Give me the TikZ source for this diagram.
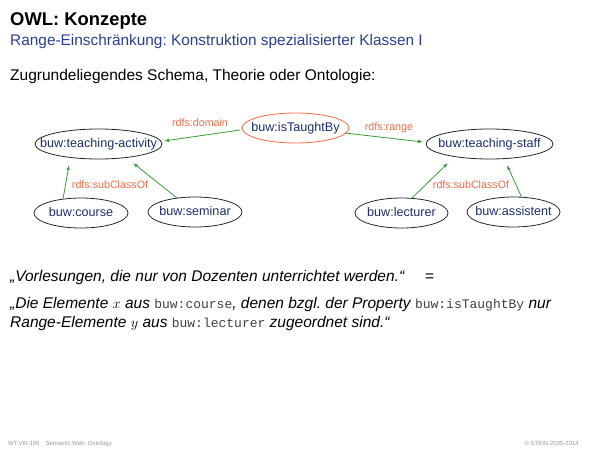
\documentclass[tikz,border=0pt]{standalone}
\usepackage{fontspec}
\setmainfont{Liberation Sans}
\setmonofont{Liberation Mono}
\usetikzlibrary{arrows.meta,shapes.geometric,calc}
\definecolor{navy}{HTML}{1E2C6E}
\definecolor{subblue}{HTML}{2B3F8F}
\definecolor{lblred}{HTML}{F26A46}
\definecolor{arrgreen}{HTML}{3A9A3A}
\definecolor{footgray}{HTML}{9A9A9A}
\newcommand{\mytt}[1]{{\fontsize{13}{15}\selectfont\upshape\ttfamily\color{black!75}#1}}
\begin{document}
\frenchspacing
\begin{tikzpicture}[x=1pt,y=-1pt,
  cls/.style={ellipse,draw=black!85,line width=0.8pt,inner xsep=-40pt,inner ysep=-8pt,
    minimum height=30pt,text height=9pt,text depth=2.6pt,text=navy,
    font=\fontsize{12.6}{14}\selectfont},
  prop/.style={cls,draw=lblred},
  lbl/.style={text=lblred,font=\fontsize{10.7}{12}\selectfont,inner sep=0pt},
  arr/.style={draw=arrgreen,line width=0.8pt,-{Latex[length=5pt,width=3.5pt]}},
  txt/.style={anchor=base west,inner sep=0pt,font=\fontsize{15.5}{18}\selectfont}]
\useasboundingbox (0,0) rectangle (600,450);

% header
\node[anchor=base west,inner sep=0pt,font=\bfseries\fontsize{18.4}{22}\selectfont] (title) at (10,25) {OWL: Konzepte};
\node[anchor=base west,inner sep=0pt,text=subblue,font=\fontsize{15.4}{18}\selectfont] (sub) at (10,45) {Range-Einschränkung: Konstruktion spezialisierter Klassen I};
\node[txt] (intro) at (10,80) {Zugrundeliegendes Schema, Theorie oder Ontologie:};

% graph nodes
\node[cls,minimum width=127pt] (ta) at (98.5,144) {buw:teaching-activity};
\node[prop,minimum width=107pt] (itb) at (295.5,128) {buw:isTaughtBy};
\node[cls,minimum width=127pt] (ts) at (489.5,144) {buw:teaching-staff};
\node[cls,minimum width=94pt] (course) at (81,213) {buw:course};
\node[cls,minimum width=94pt] (sem) at (195,212) {buw:seminar};
\node[cls,minimum width=93pt] (lec) at (401.5,213) {buw:lecturer};
\node[cls,minimum width=93pt] (ass) at (513.5,212) {buw:assistent};

% connectors
\draw[arr] ($(itb)+(-55.5,2)$) -- ($(ta)+(65.5,-3)$);
\draw[arr] ($(itb)+(49.5,5)$) -- ($(ts)+(-66.5,-2)$);
\draw[arr] ($(course)+(-18,-14)$) -- ($(ta)+(-29.5,21)$);
\draw[arr] ($(sem)+(-18,-14)$) -- ($(ta)+(34.5,19)$);
\draw[arr] ($(lec)+(10.5,-15)$) -- ($(ts)+(-41.5,19)$);
\draw[arr] ($(ass)+(8.5,-14)$) -- ($(ts)+(17.5,21)$);

% labels
\node[lbl] (l1) at (200,123) {rdfs:domain};
\node[lbl] (l2) at (389,128) {rdfs:range};
\node[lbl] (l3) at (110,185) {rdfs:subClassOf};
\node[lbl] (l4) at (471,185) {rdfs:subClassOf};

% quote text
\node[txt] (q1) at (10,281) {\itshape „Vorlesungen, die nur von Dozenten unterrichtet werden.“};
\node[txt] (eq) at (425,281) {=};
\node[txt] (q2) at (10,308) {\itshape „Die Elemente $x$ aus \mytt{buw:course}, denen bzgl. der Property \mytt{buw:isTaughtBy} nur};
\node[txt] (q3) at (10,327) {\itshape Range-Elemente $y$ aus \mytt{buw:lecturer} zugeordnet sind.“};

% footer
\node[anchor=base west,inner sep=0pt,text=footgray,font=\fontsize{6}{7}\selectfont] (f1) at (8,445) {WT:VIII-199\hspace{6pt}Semantic Web: Ontology};
\node[anchor=base east,inner sep=0pt,text=footgray,font=\fontsize{6}{7}\selectfont] (f2) at (579,445) {© STEIN 2005-2014};
\end{tikzpicture}
\end{document}
